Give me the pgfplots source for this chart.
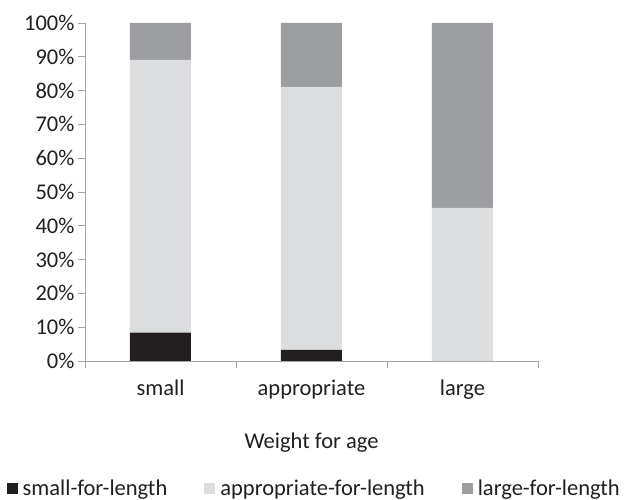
\documentclass[border=0pt]{standalone}
\usepackage{fontspec}
\setmainfont{Carlito}
\usepackage{pgfplots}
\pgfplotsset{compat=1.18}
\definecolor{cdark}{HTML}{231F20}
\definecolor{clight}{HTML}{DCDDDF}
\definecolor{cmid}{HTML}{9D9EA2}
\definecolor{caxis}{HTML}{A6A6A6}
\definecolor{ctext}{HTML}{231F20}
\begin{document}
\begin{tikzpicture}
\path[use as bounding box] (0pt,0pt) rectangle (625pt,500pt);
\begin{axis}[
  at={(85pt,139pt)}, anchor=south west,
  scale only axis, width=453pt, height=338pt,
  ybar stacked, bar width=61pt,
  xmin=-0.5, xmax=2.5, ymin=0, ymax=100,
  axis x line=bottom, axis y line=left,
  axis line style={caxis, line width=0.8pt, -},
  xtick={0,1,2}, xticklabels={small,appropriate,large},
  minor xtick={-0.5,0.5,1.5,2.5},
  major x tick style={draw=none},
  minor x tick style={caxis, line width=0.8pt},
  ytick={0,10,...,100},
  ytick style={caxis, line width=0.8pt},
  tick align=outside, major tick length=7pt, minor tick length=7pt,
  yticklabel={\pgfmathprintnumber{\tick}\%},
  /pgf/number format/assume math mode=true,
  tick label style={font=\fontsize{22.5}{27}\selectfont, text=ctext},
  xticklabel style={yshift=-8pt},
  xlabel={Weight for age},
  xlabel style={font=\fontsize{22.5}{27}\selectfont, text=ctext, yshift=-27pt},
  legend style={draw=none, at={(0.506,-0.376)}, anchor=center,
    font=\fontsize{22.5}{27}\selectfont, text=ctext,
    /tikz/every even column/.append style={column sep=35pt},
    /tikz/every odd column/.append style={column sep=3pt}},
  legend columns=3,
  legend image code/.code={\fill[#1] (0pt,-5.5pt) rectangle (11pt,5.5pt);},
  clip=false,
]
\addplot[fill=cdark, draw=none] coordinates {(0,8.4) (1,3.3) (2,0)};
\addplot[fill=clight, draw=none] coordinates {(0,80.7) (1,77.8) (2,45.3)};
\addplot[fill=cmid, draw=none] coordinates {(0,10.9) (1,18.9) (2,54.7)};
\legend{small-for-length, appropriate-for-length, large-for-length}
\end{axis}
\end{tikzpicture}
\end{document}
